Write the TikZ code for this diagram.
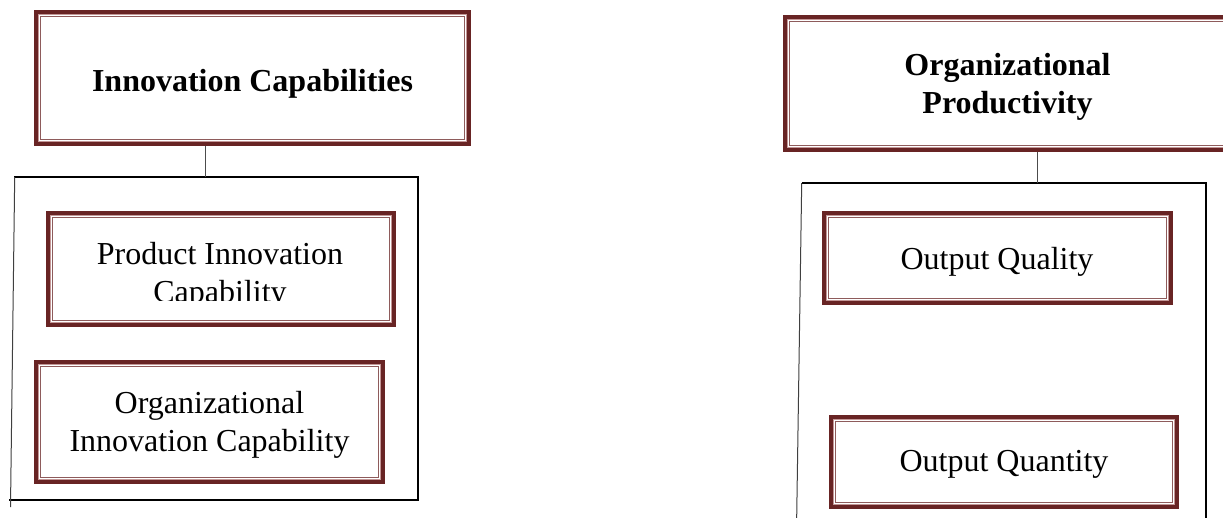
\documentclass[tikz,border=0pt]{standalone}
\usepackage{fontspec}
\setmainfont{Liberation Serif}
\definecolor{dred}{RGB}{104,36,36}
\definecolor{lred}{RGB}{195,150,150}
\tikzset{
  dbox/.style={draw=dred, line width=4pt, inner sep=0pt, fill=white,
    path picture={
      \draw[lred, line width=1pt]
        ([shift={(2.6pt,-2.6pt)}]path picture bounding box.north west) rectangle
        ([shift={(-2.6pt,2.6pt)}]path picture bounding box.south east);
      \draw[dred!75, line width=0.9pt]
        ([shift={(4.4pt,-4.4pt)}]path picture bounding box.north west) rectangle
        ([shift={(-4.4pt,4.4pt)}]path picture bounding box.south east);
    }},
  txt/.style={font=\fontsize{32}{38}\selectfont, align=center, inner sep=0pt},
  btxt/.style={txt, font=\fontsize{32}{38}\selectfont\bfseries},
  grp/.style={draw=black, line width=1.8pt},
  grpl/.style={draw=black!75, line width=1pt},
  conn/.style={draw=black!70, line width=1pt}
}
\begin{document}
\begin{tikzpicture}[x=1pt,y=-1pt]
\clip (0,0) rectangle (1223,517);
\fill[white] (0,0) rectangle (1223,517);

% ---------- left side ----------
\node[dbox, minimum width=433pt, minimum height=132pt] (ic) at (252.5,78) {};
\node[btxt] (ict) at (252.5,83.5) {Innovation Capabilities};

\coordinate (g1top) at (205,177);
\draw[grp] (14,177) -- (418,177) -- (418,500) -- (9,500);
\draw[grpl] (14.7,177) -- (10.5,507);
\draw[conn] (ic.south -| g1top) -- (g1top);

\node[dbox, minimum width=346pt, minimum height=112pt] (pic) at (221,269) {};
\begin{scope}
  \clip (48,213) rectangle (394,300);
  \node[txt] (pict) at (220,276) {Product Innovation\\Capability};
\end{scope}

\node[dbox, minimum width=347pt, minimum height=120pt] (oic) at (209.5,422) {};
\node[txt] (oict) at (209.5,424.5) {Organizational\\Innovation Capability};

% ---------- right side ----------
\node[dbox, minimum width=465pt, minimum height=133pt] (op) at (1017.5,83.5) {};
\node[btxt] (opt) at (1007.5,86.5) {Organizational\\Productivity};

\coordinate (g2top) at (1037,183);
\draw[grp] (802,183) -- (1206,183) -- (1206,530);
\draw[grpl] (801.7,183) -- (796.5,530);
\draw[conn] (op.south -| g2top) -- (g2top);

\node[dbox, minimum width=347pt, minimum height=90pt] (oq) at (997.5,258) {};
\node[txt] (oqt) at (997,261.5) {Output Quality};

\node[dbox, minimum width=346pt, minimum height=90pt] (oqn) at (1004,462) {};
\node[txt] (oqnt) at (1004,464) {Output Quantity};
\end{tikzpicture}
\end{document}
